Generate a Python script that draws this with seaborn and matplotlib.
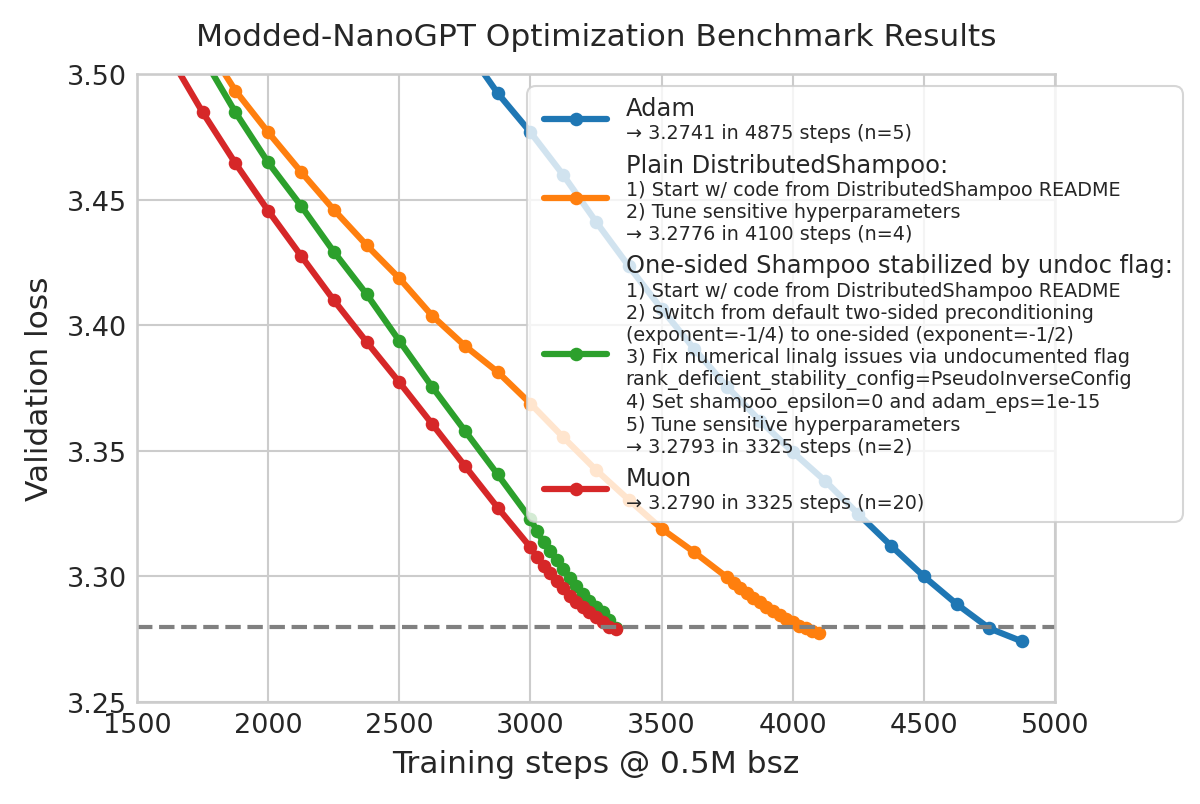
import numpy as np
import pandas as pd
import matplotlib
matplotlib.use("Agg")
import matplotlib.pyplot as plt
import seaborn as sns
from matplotlib.lines import Line2D
from matplotlib.offsetbox import AnchoredOffsetbox, VPacker, HPacker, TextArea, DrawingArea

# values
adam_steps = [2750, 2875, 3000, 3125, 3250, 3375, 3500, 3625, 3750, 3875,
              4000, 4125, 4250, 4375, 4500, 4625, 4750, 4875]
adam_loss = [3.511, 3.4924, 3.4768, 3.4598, 3.4412, 3.4235, 3.4065, 3.3905, 3.3755, 3.3620,
             3.3495, 3.3379, 3.3248, 3.3122, 3.3000, 3.2890, 3.2793, 3.2741]

shampoo_steps = [1750, 1875, 2000, 2125, 2250, 2375, 2500, 2625, 2750, 2875,
                 3000, 3125, 3250, 3375, 3500, 3625, 3750, 3775, 3800, 3825,
                 3850, 3875, 3900, 3925, 3950, 3975, 4000, 4025, 4050, 4075, 4100]
shampoo_loss = [3.514, 3.4934, 3.4768, 3.4611, 3.4460, 3.4319, 3.4187, 3.4038, 3.3918, 3.3814,
                3.3688, 3.3554, 3.3424, 3.3305, 3.3190, 3.3096, 3.2996, 3.2975, 3.2955, 3.2935,
                3.2915, 3.2897, 3.2880, 3.2862, 3.2846, 3.2831, 3.2817, 3.2804, 3.2793, 3.2784, 3.2776]

onesided_steps = [1750, 1875, 2000, 2125, 2250, 2375, 2500, 2625, 2750, 2875,
                  3000, 3025, 3050, 3075, 3100, 3125, 3150, 3175, 3200, 3225,
                  3250, 3275, 3300, 3325]
onesided_loss = [3.507, 3.4848, 3.4648, 3.4476, 3.4293, 3.4124, 3.3938, 3.3755, 3.3580, 3.3406,
                 3.3229, 3.3180, 3.3136, 3.3102, 3.3067, 3.3030, 3.2993, 3.2960, 3.2930, 3.2903,
                 3.2880, 3.2857, 3.2825, 3.2793]

muon_steps = [1625, 1750, 1875, 2000, 2125, 2250, 2375, 2500, 2625, 2750,
              2875, 3000, 3025, 3050, 3075, 3100, 3125, 3150, 3175, 3200,
              3225, 3250, 3275, 3300, 3325]
muon_loss = [3.507, 3.4848, 3.4645, 3.4456, 3.4277, 3.4100, 3.3934, 3.3773, 3.3607, 3.3440,
             3.3274, 3.3116, 3.3076, 3.3043, 3.3014, 3.2983, 3.2953, 3.2923, 3.2900, 3.2877,
             3.2857, 3.2837, 3.2817, 3.2800, 3.2790]

names = ["Adam", "Plain DistributedShampoo", "One-sided Shampoo", "Muon"]
headers = ["Adam", "Plain DistributedShampoo:", "One-sided Shampoo stabilized by undoc flag:", "Muon"]
details = [
    "\u2192 3.2741 in 4875 steps (n=5)",
    "1) Start w/ code from DistributedShampoo README\n"
    "2) Tune sensitive hyperparameters\n"
    "\u2192 3.2776 in 4100 steps (n=4)",
    "1) Start w/ code from DistributedShampoo README\n"
    "2) Switch from default two-sided preconditioning\n"
    "(exponent=-1/4) to one-sided (exponent=-1/2)\n"
    "3) Fix numerical linalg issues via undocumented flag\n"
    "rank_deficient_stability_config=PseudoInverseConfig\n"
    "4) Set shampoo_epsilon=0 and adam_eps=1e-15\n"
    "5) Tune sensitive hyperparameters\n"
    "\u2192 3.2793 in 3325 steps (n=2)",
    "\u2192 3.2790 in 3325 steps (n=20)",
]
colors = ["tab:blue", "tab:orange", "tab:green", "tab:red"]
target_loss = 3.28

frames = []
for name, s, l in zip(names, [adam_steps, shampoo_steps, onesided_steps, muon_steps],
                      [adam_loss, shampoo_loss, onesided_loss, muon_loss]):
    frames.append(pd.DataFrame({"step": s, "loss": l, "optimizer": name}))
df = pd.concat(frames, ignore_index=True)

sns.set_theme(style="whitegrid")
plt.rcParams['font.family'] = ['DejaVu Sans']

fig, ax = plt.subplots(figsize=(8, 805 / 150), dpi=150)
fig.subplots_adjust(left=137 / 1200, right=1055 / 1200, top=1 - 75 / 805, bottom=1 - 703 / 805)

sns.lineplot(data=df, x="step", y="loss", hue="optimizer", hue_order=names,
             palette=dict(zip(names, colors)), marker="o", markersize=6.5,
             markeredgewidth=0, linewidth=3, legend=False, ax=ax, sort=False)
ax.axhline(target_loss, color="gray", linestyle="--", linewidth=2)

ax.set_xlim(1500, 5000)
ax.set_ylim(3.25, 3.50)
ax.set_xticks(np.arange(1500, 5001, 500))
ax.set_yticks(np.arange(3.25, 3.5001, 0.05))
ax.set_yticklabels([f"{v:.2f}" for v in np.arange(3.25, 3.5001, 0.05)])
ax.tick_params(labelsize=13, length=0, pad=5)
ax.set_xlabel("Training steps @ 0.5M bsz", fontsize=15, labelpad=5)
ax.set_ylabel("Validation loss", fontsize=15, labelpad=6)
ax.set_title("Modded-NanoGPT Optimization Benchmark Results", fontsize=15, pad=14)

# custom legend: bigger header line, smaller detail lines
rows = []
hl = 30
lm = 3.5
for header, detail, color in zip(headers, details, colors):
    da = DrawingArea(hl + lm, 10, 0, 0)
    da.add_artist(Line2D([lm, lm + hl], [5, 5], color=color, lw=3, solid_capstyle="round"))
    da.add_artist(Line2D([lm + hl / 2], [5], color=color, marker="o", ms=6.5, mew=0))
    txt = VPacker(children=[TextArea(header, textprops=dict(size=11.6, color="0.15")),
                            TextArea(detail, textprops=dict(size=9.2, color="0.15", linespacing=1.2))],
                  pad=0, sep=1.5, align="left")
    rows.append(HPacker(children=[da, txt], align="center", pad=0, sep=9))
box = VPacker(children=rows, align="left", pad=0, sep=5)
leg = AnchoredOffsetbox(loc="upper right", child=box, pad=0.45, borderpad=0, frameon=True,
                        bbox_to_anchor=((1183 - 137) / 918, 1 - (87 - 75) / 628),
                        bbox_transform=ax.transAxes)
leg.patch.set_boxstyle("round,pad=0,rounding_size=0.4")
leg.patch.set_facecolor("white")
leg.patch.set_alpha(0.8)
leg.patch.set_edgecolor("0.8")
leg.set_zorder(5)
ax.add_artist(leg)

fig.savefig("out.png", dpi=150)
